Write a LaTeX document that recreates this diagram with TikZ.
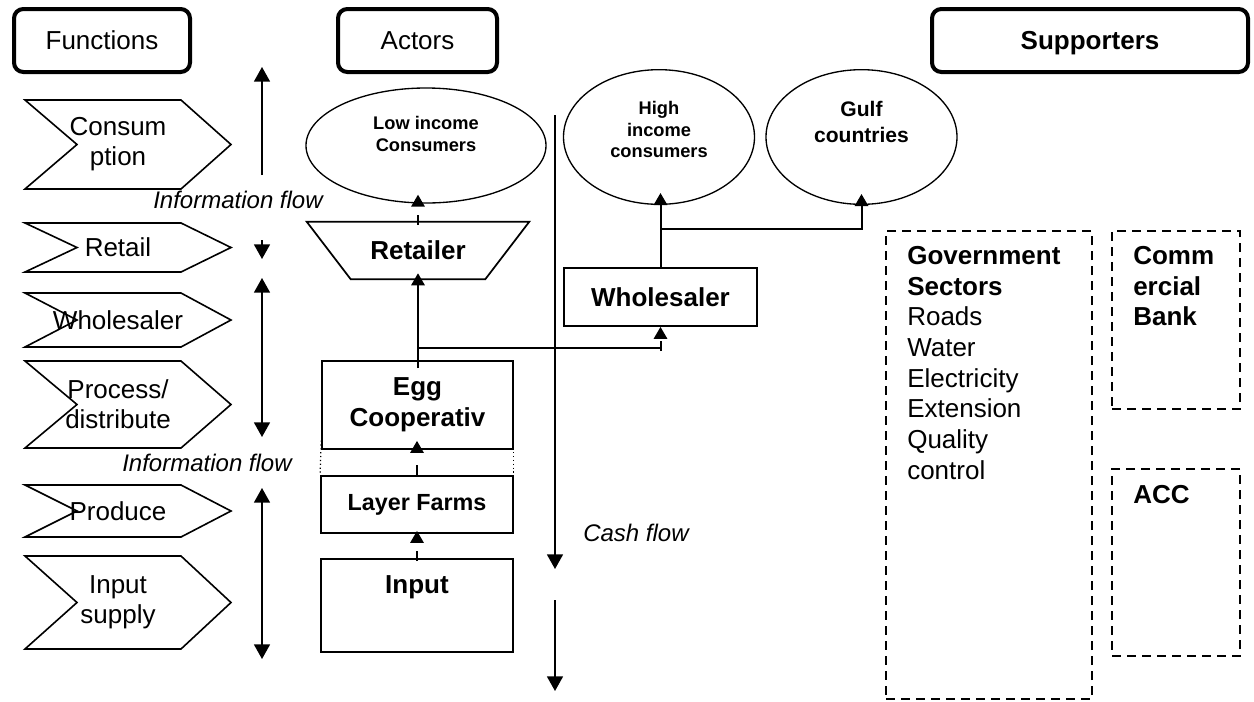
\documentclass[tikz,border=0pt]{standalone}
\usepackage{fontspec}
\setmainfont{Liberation Sans}
\usetikzlibrary{arrows.meta,shapes.geometric}

% function chevron: name, top, bottom, text
\newcommand{\fnchev}[4]{%
  \draw[chev] (25,#2) -- (181,#2) -- (231,{(#2+#3)/2}) -- (181,#3) -- (25,#3) -- (77,{(#2+#3)/2}) -- cycle;
  \node[fntxt] (#1) at (118,{(#2+#3)/2}) {#4};}

\begin{document}
\begin{tikzpicture}[x=0.75pt,y=0.75pt,yscale=-1,
  >={Triangle[width=12pt,length=11pt]},
  hdr/.style={draw, line width=3pt, rounded corners=7pt, inner sep=0pt, minimum height=47.25pt, text depth=0pt, font=\fontsize{19.5}{22}\selectfont},
  chev/.style={line width=1.2pt},
  fntxt/.style={align=center, inner sep=0pt, font=\fontsize{19.5}{22.5}\selectfont},
  flowtxt/.style={inner sep=0pt, font=\fontsize{18}{20}\selectfont\itshape},
  flowarr/.style={line width=1.25pt},
  actell/.style={draw, ellipse, line width=1pt, inner sep=0pt},
  elltxt/.style={align=center, inner sep=0pt, font=\fontsize{13.7}{16.2}\selectfont\bfseries},
  acttxt/.style={align=center, inner sep=0pt, font=\fontsize{19.5}{23}\selectfont\bfseries},
  actbox/.style={draw, acttxt, line width=1.3pt},
  boxline/.style={line width=1.3pt, line join=miter},
  conn/.style={line width=1.5pt},
  actarr/.style={conn, -{Triangle[width=10pt,length=9pt]}},
  gapline/.style={dash pattern=on 7.5pt off 40pt},
  spbox/.style={draw, line width=1.7pt, dash pattern=on 6.75pt off 4.5pt, inner sep=0pt},
  sptxt/.style={align=left, inner sep=0pt, font=\fontsize{19.5}{23}\selectfont}]
\useasboundingbox (0,0) rectangle (1254,701);

% column heads
\node[hdr, minimum width=132pt] (functions) at (102,40.5) {Functions};
\node[hdr, minimum width=119.25pt] (actors) at (417.5,40.5) {Actors};
\node[hdr, minimum width=237pt, font=\fontsize{19.5}{22}\selectfont\bfseries] (supporters) at (1090,40.5) {Supporters};

% functions
\fnchev{consumption}{100}{189}{Consum\\ption}
\fnchev{retail}{223}{272}{Retail}
\fnchev{wholesale}{293}{347}{Wholesaler}
\fnchev{process}{361}{448}{Process/\\distribute}
\fnchev{produce}{485}{537}{Produce}
\fnchev{inputsup}{556}{649}{Input\\supply}

% information flow
\draw[flowarr, ->] (262,175) -- (262,67);
\draw[flowarr, ->] (262,240) -- (262,259);
\draw[flowarr, <->] (262,278) -- (262,437);
\draw[flowarr, <->] (262,488) -- (262,659);
\node[flowtxt] (info1) at (238,200) {Information flow};
\node[flowtxt] (info2) at (207,463) {Information flow};

% cash flow
\draw[flowarr, ->] (555,115) -- (555,569);
\draw[flowarr, ->] (555,600) -- (555,691);
\node[flowtxt] (cash) at (636,533) {Cash flow};

% consumers
\node[actell, minimum width=180pt, minimum height=86.25pt] (lowinc) at (426,145.5) {};
\node[elltxt] (lowinctxt) at ([yshift=-8.5pt]lowinc.center) {Low income\\Consumers};
\node[actell, minimum width=143.25pt, minimum height=101pt] (highinc) at (659,137) {};
\node[elltxt] (highinctxt) at ([yshift=-5.5pt]highinc.center) {High\\income\\consumers};
\node[actell, minimum width=143.25pt, minimum height=101pt] (gulf) at (861.5,137) {};
\node[elltxt, font=\fontsize{15.8}{19.5}\selectfont\bfseries] (gulftxt) at ([yshift=-11pt]gulf.center) {Gulf\\countries};

% actors
\node[acttxt, minimum width=166.5pt, minimum height=42.75pt] (retailer) at (418,250.5) {Retailer};
\draw[boxline] (retailer.north west) -- (retailer.north east) -- ([xshift=-33pt]retailer.south east)
  -- ([xshift=33pt]retailer.south west) -- cycle;
\node[actbox, minimum width=144.75pt, minimum height=43.5pt] (wholesaler) at (660.5,297) {Wholesaler};
\node[actbox, minimum width=143.25pt, minimum height=66pt] (egg) at (417.5,405) {Egg\\Cooperativ};
\node[actbox, minimum width=144pt, minimum height=42.75pt, font=\fontsize{17.5}{20}\selectfont\bfseries] (layer) at (417,504.5) {Layer Farms};
\node[actbox, minimum width=144pt, minimum height=69.75pt] (input) at (417,605.5) {};
\node[acttxt] (inputtxt) at ([yshift=-14pt]input.center) {Input};
\draw[dotted, line width=0.9pt] ([yshift=-7pt]egg.south west) -- (layer.north west);
\draw[dotted, line width=0.9pt] ([yshift=-7pt]egg.south east) -- (layer.north east);

% product flow
\coordinate (eggtop) at ([yshift=6pt]retailer.south |- egg.north);
\coordinate (split) at (retailer.south |- 0,348);
\coordinate (wsplit) at (wholesaler.north |- 0,229);
\draw[actarr, gapline] ([yshift=2.25pt]input.north) -- ([yshift=-2.25pt]layer.south);
\draw[actarr, gapline, shorten >=-6.75pt] (layer.north) -- (layer.north |- egg.south);
\draw[actarr, shorten >=-4.5pt] (eggtop) -- (retailer.south);
\draw[conn] (split) -- (split -| wholesaler.south);
\draw[actarr, gapline] ([yshift=2.25pt]split -| wholesaler.south) -- (wholesaler.south);
\draw[actarr, gapline, shorten >=-6.75pt] ([yshift=2.25pt]retailer.north) -- (retailer.north |- lowinc.south);
\draw[actarr, shorten >=-9pt] (wholesaler.north) -- (wholesaler.north |- highinc.south);
\draw[actarr, shorten >=-8.25pt] (wsplit) -| (gulf.south);

% supporters
\node[spbox, minimum width=154.5pt, minimum height=351pt] (gov) at (989,465) {};
\node[spbox, minimum width=96pt, minimum height=133.5pt] (bank) at (1176,320) {};
\node[spbox, minimum width=96pt, minimum height=140.25pt] (acc) at (1176,562.5) {};
\node[sptxt, anchor=north west] (govtxt) at (907,246) {\textbf{Government}\\\textbf{Sectors}\\Roads\\Water\\Electricity\\Extension\\Quality\\control};
\node[sptxt, anchor=north west, font=\fontsize{19.5}{23}\selectfont\bfseries] (banktxt) at (1133,246) {Comm\\ercial\\Bank};
\node[sptxt, anchor=north west, font=\fontsize{19.5}{23}\selectfont\bfseries] (acctxt) at (1133,485) {ACC};
\end{tikzpicture}
\end{document}
